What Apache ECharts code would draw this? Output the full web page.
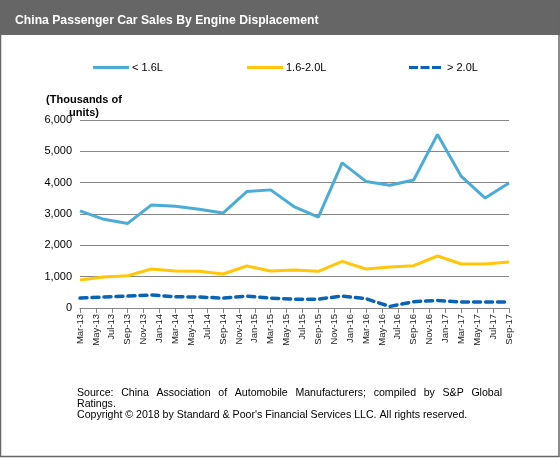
<!DOCTYPE html>
<html>
<head>
<meta charset="utf-8">
<script src="https://cdn.jsdelivr.net/npm/echarts@6/dist/echarts.min.js"></script>
<style>
html,body{margin:0;padding:0;background:#fff;}
#chart{width:560px;height:458px;}
</style>
</head>
<body>
<div id="chart"></div>
<script>
// ---- data ----
var months = ['Mar-13','Apr-13','May-13','Jun-13','Jul-13','Aug-13','Sep-13','Oct-13','Nov-13','Dec-13',
  'Jan-14','Feb-14','Mar-14','Apr-14','May-14','Jun-14','Jul-14','Aug-14','Sep-14','Oct-14','Nov-14','Dec-14',
  'Jan-15','Feb-15','Mar-15','Apr-15','May-15','Jun-15','Jul-15','Aug-15','Sep-15','Oct-15','Nov-15','Dec-15',
  'Jan-16','Feb-16','Mar-16','Apr-16','May-16','Jun-16','Jul-16','Aug-16','Sep-16','Oct-16','Nov-16','Dec-16',
  'Jan-17','Feb-17','Mar-17','Apr-17','May-17','Jun-17','Jul-17','Aug-17','Sep-17'];
var quarters = ['Mar-13','Jun-13','Sep-13','Dec-13','Mar-14','Jun-14','Sep-14','Dec-14','Mar-15','Jun-15',
  'Sep-15','Dec-15','Mar-16','Jun-16','Sep-16','Dec-16','Mar-17','Jun-17','Sep-17'];
var under16 = [3100,2830,2700,3290,3245,3150,3030,3715,3770,3225,2900,4630,4040,3915,4085,5540,4200,3510,3990];
var mid16to20 = [895,990,1030,1245,1180,1170,1085,1340,1180,1210,1170,1490,1245,1310,1350,1660,1405,1405,1470];
var over20 = [316,350,380,415,360,350,316,380,316,283,283,380,295,50,200,240,190,190,190];
var seriesNames = ['< 1.6L','1.6-2.0L','> 2.0L'];
var yTicks = {min:0, max:6000, interval:1000};
var titleText = 'China Passenger Car Sales By Engine Displacement';
var yAxisTitle = '(Thousands of\nunits)';
var footer1 = 'Source: China Association of Automobile Manufacturers; compiled by S&P Global';
var footer2 = 'Ratings.';
var footer3 = 'Copyright \u00a9 2018 by Standard & Poor\'s Financial Services LLC. All rights reserved.';

function pairs(vals){ return quarters.map(function(q,i){ return [q, vals[i]]; }); }

var FF = '"Liberation Sans", Arial, sans-serif';
// justified footer line 1
var footFont = '10.6px ' + FF;
var cv = document.createElement('canvas').getContext('2d');
cv.font = footFont;
var words = footer1.split(' ');
var x0 = 77, x1 = 502;
var wsum = 0; words.forEach(function(w){ wsum += cv.measureText(w).width; });
var gap = (x1 - x0 - wsum) / (words.length - 1);
var footEls = [];
var cx = x0;
words.forEach(function(w){
  footEls.push({type:'text', x:cx, y:388, style:{text:w, font:footFont, fill:'#000'}});
  cx += cv.measureText(w).width + gap;
});
footEls.push({type:'text', x:x0, y:399, style:{text:footer2, font:footFont, fill:'#000'}});
footEls.push({type:'text', x:x0, y:410, style:{text:footer3, font:footFont, fill:'#000'}});

var solidIcon = 'path://M0,0h36v3h-36z';
var dashIcon = 'path://M0,0h9v3h-9z M11.5,0h9v3h-9z M23,0h9v3h-9z';
var legendLefts = [93, 247, 409];
var legendIcons = [solidIcon, solidIcon, dashIcon];
var legendW = [36, 36, 32];
var legendPad = [-2, -2, 1];
var legends = seriesNames.map(function(n, i){
  return {left:legendLefts[i], top:62, padding:0, itemWidth:legendW[i], itemHeight:3.5, itemGap:0,
    icon:legendIcons[i], selectedMode:false,
    textStyle:{fontSize:11, color:'#000', fontFamily:FF, padding:[0,0,0,legendPad[i]]},
    data:[n]};
});

var chart = echarts.init(document.getElementById('chart'), null, {renderer:'canvas'});
var option = {
  backgroundColor:'#fff',
  animation:false,
  title:{text:titleText, left:10, top:10,
    textStyle:{color:'#fff', fontSize:12.2, fontWeight:'bold', fontFamily:FF}},
  legend:legends,
  grid:{left:80, right:51, top:120, bottom:150},
  xAxis:{type:'category', data:months, boundaryGap:false,
    axisLine:{lineStyle:{color:'#868686', width:1}},
    axisTick:{interval:1, length:5, lineStyle:{color:'#868686'}},
    axisLabel:{interval:1, rotate:90, margin:6, fontSize:9.5, color:'#222', fontFamily:FF},
    splitLine:{show:false}},
  yAxis:{type:'value', min:yTicks.min, max:yTicks.max, interval:yTicks.interval,
    axisLine:{show:false}, axisTick:{show:false},
    axisLabel:{fontSize:11, color:'#000', margin:8, fontFamily:FF},
    splitLine:{lineStyle:{color:'#868686', width:1}}},
  graphic:[
    {type:'rect', z:-1, shape:{x:0, y:0, width:560, height:35}, style:{fill:'#666666'}},
    {type:'rect', z:100, shape:{x:0.5, y:0.5, width:558.5, height:456}, style:{fill:null, stroke:'#666666', lineWidth:1.5}},
    {type:'text', x:84, y:93, style:{text:yAxisTitle, font:'bold 11px ' + FF, fill:'#000', align:'center', lineHeight:13}}
  ].concat(footEls),
  series:[
    {name:seriesNames[0], type:'line', data:pairs(under16), symbol:'none', lineStyle:{color:'#4BACD6', width:3}, itemStyle:{color:'#4BACD6'}},
    {name:seriesNames[1], type:'line', data:pairs(mid16to20), symbol:'none', lineStyle:{color:'#FFC60A', width:3}, itemStyle:{color:'#FFC60A'}},
    {name:seriesNames[2], type:'line', data:pairs(over20), symbol:'none', lineStyle:{color:'#0A64B4', width:3.5, type:[7,5], cap:'round'}, itemStyle:{color:'#0A64B4'}}
  ]
};
chart.setOption(option);
</script>
</body>
</html>
